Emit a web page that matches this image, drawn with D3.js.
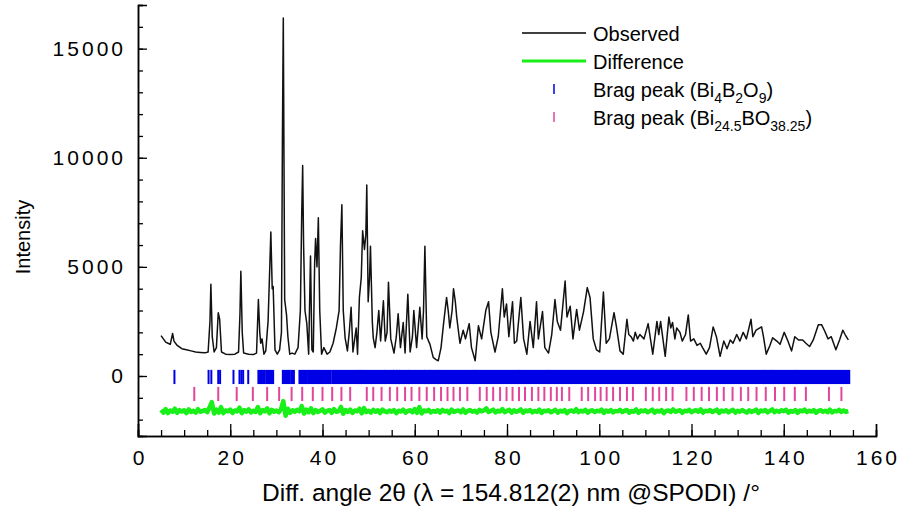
<!DOCTYPE html>
<html>
<head>
<meta charset="utf-8">
<script src="https://cdn.jsdelivr.net/npm/d3@7"></script>
<style>
body { margin: 0; background: #fff; }
svg { display: block; font-family: "Liberation Sans", Arial, sans-serif; }
</style>
</head>
<body>
<svg id="chart" width="914" height="520"></svg>
<script>
// observed powder pattern, [2theta, intensity]
var observed = [
	[5.0,1850],[5.5,1700],[6.0,1550],[6.5,1500],[7.0,1450],[7.5,1950],[7.8,1600],[8.5,1400],[9.5,1250],[10.5,1200],
	[11.5,1150],[12.5,1100],[13.5,1080],[14.5,1060],[15.2,1100],[15.6,2500],[15.8,4200],[16.1,1800],[16.5,1100],[17.0,1300],
	[17.4,2900],[17.7,2600],[18.1,1100],[19.0,1000],[20.0,980],[21.0,1000],[21.8,1100],[22.1,2800],[22.3,4800],[22.6,2000],
	[22.9,1050],[24.0,1000],[25.0,980],[25.7,1050],[26.1,3500],[26.4,2000],[26.6,1500],[26.9,1700],[27.3,1000],[27.7,1150],
	[28.2,2500],[28.6,5200],[28.8,6600],[29.1,4000],[29.3,4100],[29.7,1200],[30.2,1000],[30.7,1200],[31.1,2000],[31.3,10500],
	[31.5,16400],[31.8,3500],[32.2,2800],[32.5,1800],[32.9,1000],[33.4,1050],[34.0,1000],[34.7,1300],[35.2,3000],[35.5,7500],
	[35.7,9650],[35.9,6000],[36.2,3000],[36.6,2400],[37.0,1000],[37.4,5500],[37.7,1200],[38.0,1100],[38.3,5200],[38.5,6300],
	[38.8,5000],[39.1,7250],[39.4,3000],[39.8,1000],[40.3,1300],[41.0,1000],[41.6,1100],[42.3,1500],[43.0,2200],[43.6,3000],
	[43.9,6000],[44.2,7850],[44.5,3000],[44.9,1750],[45.4,1150],[45.8,2000],[46.2,3150],[46.6,1100],[47.3,2200],[47.6,1000],
	[48.0,3600],[48.4,4500],[48.7,6650],[49.1,5800],[49.4,6500],[49.6,8750],[49.9,3400],[50.2,4500],[50.4,5950],[50.8,2500],
	[51.0,1750],[51.4,1300],[51.8,2000],[52.2,3000],[52.6,1600],[53.2,3450],[53.6,1600],[54.0,2000],[54.3,4300],[54.8,1700],
	[55.5,1050],[56.0,1800],[56.4,2850],[56.9,1300],[57.5,2450],[57.9,1050],[58.5,3750],[59.0,1100],[59.5,1800],[59.8,3000],
	[60.4,1300],[61.1,3150],[61.6,1700],[61.9,3000],[62.2,5950],[62.6,1800],[63.3,1450],[64.0,850],[64.6,750],[65.1,700],
	[65.7,1300],[66.3,2500],[66.9,3600],[67.3,2900],[67.6,2200],[68.1,3000],[68.4,4000],[68.8,3400],[69.1,2700],[69.8,1500],
	[70.5,2100],[71.0,1700],[71.8,2400],[72.3,1300],[73.1,700],[73.8,2300],[74.5,1700],[75.4,3000],[76.0,3400],[76.5,2000],
	[77.4,1100],[78.1,1800],[79.0,4000],[79.4,2700],[79.9,3300],[80.4,1800],[81.2,3400],[81.6,1500],[82.1,1600],[83.0,3600],
	[83.6,1700],[84.3,1000],[85.0,2500],[85.7,1300],[86.4,3400],[86.8,1700],[87.7,2950],[88.2,1300],[89.0,1050],[89.7,1900],
	[90.4,3500],[90.9,2500],[91.6,2100],[92.6,4350],[93.0,2700],[93.7,3200],[94.3,1700],[95.1,3050],[95.7,2100],[96.6,2950],
	[97.4,4050],[98.0,3600],[98.7,1700],[99.4,1200],[100.1,1100],[100.9,3850],[101.5,1500],[102.2,1700],[103.2,2900],[103.7,2300],
	[104.5,1150],[105.2,1000],[106.0,2600],[106.4,1900],[106.9,1800],[107.4,1600],[107.8,2000],[108.3,1700],[108.8,1900],[109.7,1700],
	[110.6,2400],[111.6,1000],[112.5,2500],[112.9,1900],[113.3,2500],[114.3,900],[115.1,2700],[115.5,2200],[115.9,2450],[116.4,1700],
	[116.8,2200],[117.5,2000],[118.0,1600],[118.7,1900],[119.3,2800],[119.8,1600],[120.5,1700],[121.2,1400],[121.9,1500],[122.4,1300],
	[123.2,1000],[123.9,1300],[124.7,2250],[125.4,1800],[126.2,900],[127.0,1600],[127.7,1250],[128.4,1650],[129.0,1500],[129.8,1900],
	[130.5,1600],[131.2,2000],[131.9,1700],[132.9,2600],[133.3,1800],[134.0,2100],[135.2,2250],[135.6,1800],[136.2,1000],[137.0,1400],
	[137.6,1750],[138.5,1600],[139.2,1450],[140.1,2000],[140.9,1600],[141.7,1150],[142.4,1800],[143.2,1650],[144.1,1650],[144.8,1500],
	[145.6,1350],[146.4,1650],[147.5,2350],[148.2,2350],[148.9,2050],[149.6,1700],[150.3,1800],[151.3,1200],[152.1,1650],[152.8,2100],
	[153.3,1900],[154.0,1650]
];

// difference curve, one value every 0.5 deg from 5 deg
var diffStart = 5, diffStep = 0.5;
var difference = [
	-1550,-1680,-1520,-1700,-1580,-1640,-1500,-1690,-1560,-1630,
	-1570,-1700,-1530,-1650,-1590,-1680,-1520,-1640,-1600,-1560,
	-1660,-1450,-1200,-1720,-1540,-1680,-1430,-1700,-1580,-1620,
	-1540,-1690,-1580,-1620,-1450,-1700,-1560,-1640,-1530,-1670,
	-1590,-1650,-1420,-1700,-1560,-1620,-1480,-1710,-1550,-1640,
	-1580,-1660,-1530,-1150,-1820,-1500,-1690,-1570,-1640,-1550,
	-1620,-1380,-1720,-1540,-1660,-1480,-1700,-1560,-1650,-1590,
	-1530,-1680,-1600,-1560,-1690,-1520,-1640,-1610,-1420,-1730,
	-1560,-1650,-1540,-1690,-1580,-1620,-1500,-1710,-1470,-1650,
	-1590,-1680,-1550,-1640,-1570,-1700,-1540,-1620,-1660,-1580,
	-1640,-1560,-1700,-1590,-1630,-1540,-1680,-1600,-1570,-1660,
	-1520,-1690,-1430,-1710,-1580,-1620,-1550,-1670,-1600,-1640,
	-1570,-1680,-1550,-1630,-1590,-1700,-1540,-1650,-1600,-1580,
	-1660,-1530,-1690,-1600,-1560,-1640,-1590,-1680,-1550,-1620,
	-1580,-1480,-1650,-1600,-1540,-1670,-1590,-1630,-1520,-1660,
	-1600,-1550,-1680,-1570,-1640,-1600,-1530,-1690,-1580,-1620,
	-1560,-1670,-1600,-1640,-1540,-1690,-1590,-1620,-1570,-1660,
	-1610,-1550,-1680,-1590,-1630,-1560,-1700,-1600,-1580,-1640,
	-1520,-1660,-1590,-1630,-1550,-1680,-1600,-1570,-1650,-1590,
	-1620,-1540,-1690,-1580,-1640,-1560,-1670,-1600,-1620,-1550,
	-1650,-1590,-1560,-1680,-1600,-1640,-1530,-1690,-1580,-1620,
	-1570,-1660,-1600,-1540,-1680,-1590,-1630,-1560,-1700,-1600,
	-1580,-1650,-1530,-1640,-1600,-1570,-1690,-1590,-1620,-1550,
	-1660,-1600,-1570,-1640,-1530,-1680,-1590,-1620,-1560,-1650,
	-1600,-1540,-1690,-1580,-1630,-1570,-1660,-1600,-1550,-1680,
	-1590,-1640,-1560,-1620,-1680,-1570,-1650,-1600,-1540,-1690,
	-1580,-1620,-1560,-1670,-1600,-1530,-1660,-1590,-1640,-1570,
	-1610,-1550,-1680,-1600,-1640,-1560,-1690,-1580,-1620,-1540,
	-1650,-1590,-1630,-1560,-1680,-1600,-1570,-1640,-1590,-1660,
	-1540,-1670,-1600,-1620,-1550,-1650,-1580,-1640,-1610
];

// Bragg reflections Bi4B2O9: single ticks, then runs where ticks merge
var braggA = [7.9,15.3,15.9,17.4,17.8,20.7,22.0,22.4,22.8,23.9];
var braggABands = [[26.1,27.5],[27.9,29.3],[31.4,32.8],[33.2,33.8],[35.0,36.6],[36.9,38.0],[38.3,38.9],[39.2,39.9],
	[40.3,41.0],[41.4,41.8],[42.2,47.7],[47.9,48.4],[48.6,53.4],[53.6,55.3],[55.5,56.0],[56.2,56.6],[56.8,58.5],
	[58.7,62.1],[62.3,63.2],[63.4,65.0],[65.2,72.6],[72.8,73.2],[73.4,82.4],[82.6,88.9],[89.1,135.5],[135.7,137.3],
	[137.5,142.7],[142.9,154.2]];
// Bragg reflections Bi24.5BO38.25
var braggB = [12.2,17.4,21.4,24.9,28.0,30.6,33.3,35.6,37.9,40.0,42.1,44.1,46.0,49.6,51.0,52.8,54.6,56.2,57.9,59.3,
	61.0,62.6,64.2,65.7,67.1,68.4,69.8,71.4,74.1,75.6,77.0,78.5,79.9,81.2,82.6,83.9,85.4,86.8,88.1,89.5,90.8,91.9,
	93.5,96.2,97.6,99.1,100.3,101.6,103.0,104.5,106.0,107.3,110.1,111.6,113.0,114.5,115.9,118.9,120.5,122.2,123.8,
	125.5,127.0,128.9,130.7,132.3,134.1,136.1,138.1,140.1,142.4,144.8,149.8,152.5];

var xTicks = [0,20,40,60,80,100,120,140,160];
var yTicks = [0,5000,10000,15000];

var svg = d3.select('#chart');
svg.append('rect').attr('width',914).attr('height',520).attr('fill','#fff');

var x = d3.scaleLinear().domain([0,160]).range([138,876]);
var y = d3.scaleLinear().domain([-2750,17000]).range([436,5]);

var rowA = [280,-370], rowB = [-500,-1150];
var blue = '#0000e6', pink = '#e0479c', green = '#19f019';

// bragg rows
svg.append('g').selectAll('rect')
	.data(braggABands).enter().append('rect')
	.attr('x', function(d) { return x(d[0]) - 1; })
	.attr('width', function(d) { return x(d[1]) - x(d[0]) + 2; })
	.attr('y', y(rowA[0]))
	.attr('height', y(rowA[1]) - y(rowA[0]))
	.attr('fill', blue);
svg.append('g').selectAll('line')
	.data(braggA).enter().append('line')
	.attr('x1', function(d) { return x(d); }).attr('x2', function(d) { return x(d); })
	.attr('y1', y(rowA[0])).attr('y2', y(rowA[1]))
	.attr('stroke', blue).attr('stroke-width', 2);
svg.append('g').selectAll('line')
	.data(braggB).enter().append('line')
	.attr('x1', function(d) { return x(d); }).attr('x2', function(d) { return x(d); })
	.attr('y1', y(rowB[0])).attr('y2', y(rowB[1]))
	.attr('stroke', pink).attr('stroke-width', 2);

// difference
var diffLine = d3.line()
	.x(function(d, i) { return x(diffStart + i * diffStep); })
	.y(function(d) { return y(d); });
svg.append('path').datum(difference)
	.attr('d', diffLine)
	.attr('fill', 'none').attr('stroke', green).attr('stroke-width', 4.5).attr('stroke-linejoin', 'round');

// observed
var obsLine = d3.line()
	.x(function(d) { return x(d[0]); })
	.y(function(d) { return y(d[1]); });
svg.append('path').datum(observed)
	.attr('d', obsLine)
	.attr('fill', 'none').attr('stroke', '#111').attr('stroke-width', 1.5).attr('stroke-linejoin', 'round');

// axes, ticks pointing inward
function styleAxis(g) {
	g.selectAll('path.domain').attr('stroke', '#000').attr('stroke-width', 1.5);
	g.selectAll('.tick line').attr('stroke', '#000').attr('stroke-width', 1.3);
	g.selectAll('text').attr('fill', '#000').style('font-size', '21px').style('letter-spacing', '3px')
		.style('font-family', '"Liberation Sans", Arial, sans-serif');
}
var xMinor = d3.range(0, 161, 5);
svg.append('g').attr('transform', 'translate(0,436)')
	.call(d3.axisBottom(x).tickValues(xMinor).tickSize(-6).tickFormat(''))
	.call(styleAxis);
svg.append('g').attr('transform', 'translate(0,436)')
	.call(d3.axisBottom(x).tickValues(xTicks).tickSize(-12).tickPadding(14).tickFormat(d3.format('d')))
	.call(styleAxis)
	.selectAll('text').attr('dx', '1.5px');

var yMinor = d3.range(-2000, 17001, 1000);
svg.append('g').attr('transform', 'translate(138,0)')
	.call(d3.axisLeft(y).tickValues(yMinor).tickSize(-5).tickFormat(''))
	.call(styleAxis);
svg.append('g').attr('transform', 'translate(138,0)')
	.call(d3.axisLeft(y).tickValues(yTicks).tickSize(-9).tickPadding(12).tickFormat(d3.format('d')))
	.call(styleAxis);

// axis titles
svg.append('text')
	.attr('x', 511).attr('y', 501)
	.attr('text-anchor', 'middle')
	.style('font-size', '24.5px')
	.text('Diff. angle 2\u03b8 (\u03bb = 154.812(2) nm @SPODI) /\u00b0');
svg.append('text')
	.attr('transform', 'translate(30,237) rotate(-90)')
	.attr('text-anchor', 'middle')
	.style('font-size', '20px')
	.text('Intensity');

// legend
var legendItems = [
	{type: 'line', color: '#000', width: 1.5, parts: [['Observed','']]},
	{type: 'line', color: green, width: 3, parts: [['Difference','']]},
	{type: 'tick', color: blue, parts: [['Brag peak (Bi',''],['4','sub'],['B',''],['2','sub'],['O',''],['9','sub'],[')','']]},
	{type: 'tick', color: pink, parts: [['Brag peak (Bi',''],['24.5','sub'],['BO',''],['38.25','sub'],[')','']]}
];
var leg = svg.append('g');
var item = leg.selectAll('g').data(legendItems).enter().append('g')
	.attr('transform', function(d, i) { return 'translate(0,' + (33 + i * 28) + ')'; });
item.filter(function(d) { return d.type == 'line'; }).append('line')
	.attr('x1', 522).attr('x2', 586).attr('y1', 0).attr('y2', 0)
	.attr('stroke', function(d) { return d.color; })
	.attr('stroke-width', function(d) { return d.width; });
item.filter(function(d) { return d.type == 'tick'; }).append('line')
	.attr('x1', 554).attr('x2', 554).attr('y1', -5).attr('y2', 5)
	.attr('stroke', function(d) { return d.color; })
	.attr('stroke-width', 1.5);
var txt = item.append('text').attr('x', 593).attr('y', 7.5).style('font-size', '20px');
txt.selectAll('tspan').data(function(d) { return d.parts; }).enter().append('tspan')
	.style('font-size', function(p) { return p[1] == 'sub' ? '14px' : null; })
	.attr('dy', function(p, i, nodes) {
		var prev = i > 0 ? d3.select(nodes[i-1]).datum()[1] : '';
		if (p[1] == 'sub' && prev != 'sub') return 6;
		if (p[1] != 'sub' && prev == 'sub') return -6;
		return 0;
	})
	.text(function(p) { return p[0]; });
</script>
</body>
</html>
